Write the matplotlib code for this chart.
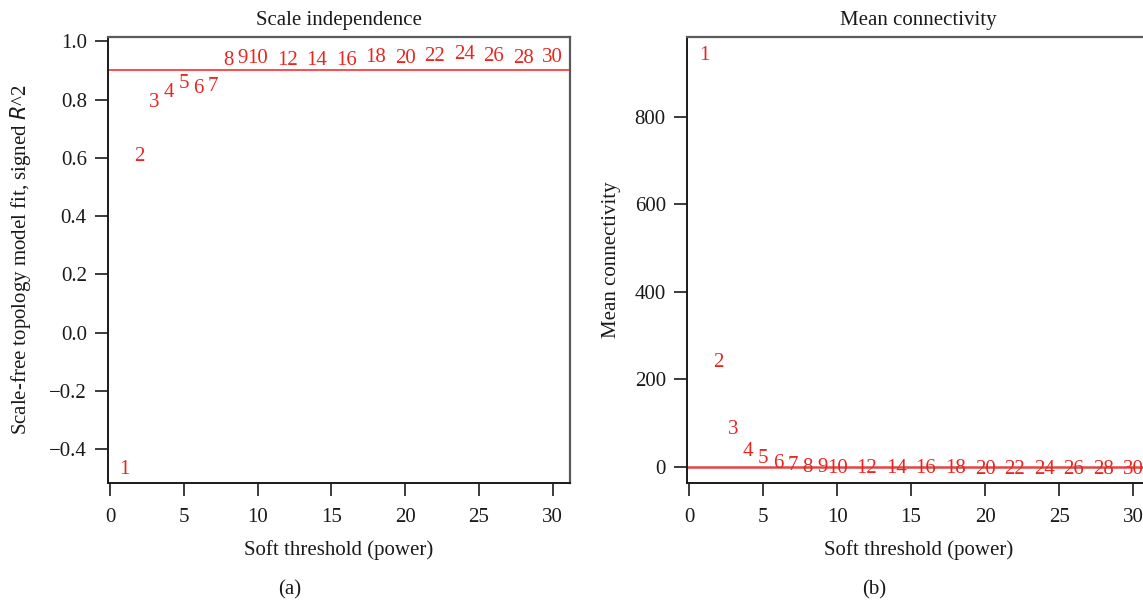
import matplotlib
matplotlib.use("Agg")
import matplotlib.pyplot as plt

# Soft-thresholding powers tested for the network
powers = [1, 2, 3, 4, 5, 6, 7, 8, 9, 10, 12, 14, 16, 18, 20, 22, 24, 26, 28, 30]

# Scale-free topology fit index (signed R^2) per power
signed_r2 = [-0.46, 0.613, 0.798, 0.832, 0.863, 0.846, 0.852, 0.943, 0.949, 0.949,
             0.943, 0.943, 0.943, 0.952, 0.949, 0.957, 0.962, 0.958, 0.951, 0.954]

# Mean connectivity per power
mean_k = [945, 244, 91, 40, 24.5, 13, 9, 4.5, 3.5, 2.5,
          1.6, 1.1, 0.8, 0.6, 0.5, 0.4, 0.35, 0.3, 0.27, 0.25]

r2_cutoff = 0.90
k_line = 0

x_ticks = [0, 5, 10, 15, 20, 25, 30]
r2_ticks = [-0.4, -0.2, 0.0, 0.2, 0.4, 0.6, 0.8, 1.0]
k_ticks = [0, 200, 400, 600, 800]

plt.rcParams["font.family"] = ["Liberation Serif", "DejaVu Serif"]
FS = 15
W, H = 1143, 601
fig = plt.figure(figsize=(W / 100, H / 100), dpi=100)

def px_axes(left, top, right, bottom):
    return fig.add_axes([left / W, 1 - bottom / H, (right - left) / W, (bottom - top) / H])

ax1 = px_axes(107.7, 36.7, 570.0, 483.3)
ax2 = px_axes(686.7, 36.7, 1150.4, 483.3)

def style(ax):
    for side in ("top", "right"):
        ax.spines[side].set_color("#5a5a5a")
        ax.spines[side].set_linewidth(1.6)
    for side in ("left", "bottom"):
        ax.spines[side].set_color("#1a1a1a")
        ax.spines[side].set_linewidth(1.4)
    ax.tick_params(axis="both", direction="out", length=9.5, width=1.2,
                   color="#1a1a1a", labelsize=FS, labelcolor="#1a1a1a")
    ax.tick_params(axis="x", pad=8)
    ax.tick_params(axis="y", pad=5.5)
    ax.set_xlim(-0.16, 31.17)
    ax.set_xticks(x_ticks)
    ax.set_xticklabels([str(t) for t in x_ticks])

# (a) Scale independence
style(ax1)
ax1.set_ylim(-0.517, 1.016)
ax1.set_yticks(r2_ticks)
ax1.set_yticklabels([f"{t:.1f}".replace("-", "\u2212") for t in r2_ticks])
ax1.axhline(r2_cutoff, color="#ff1a1a", lw=1.1)
for p, v in zip(powers, signed_r2):
    ax1.text(p, v, str(p), color="#e8251f", fontsize=FS, ha="center", va="center_baseline")
ax1.text(0.5, 1.036, "Scale independence", transform=ax1.transAxes,
         ha="center", va="center", fontsize=FS, color="#1a1a1a")
ax1.set_xlabel("Soft threshold (power)", fontsize=FS, color="#1a1a1a")
ax1.xaxis.set_label_coords(0.5, -0.128)
ax1.set_ylabel("Scale-free topology model fit, signed $\\mathit{R}$^2", fontsize=FS, color="#1a1a1a")
ax1.yaxis.set_label_coords(-0.162, 0.5)

# (b) Mean connectivity
style(ax2)
ax2.set_ylim(-37.9, 982.9)
ax2.set_yticks(k_ticks)
ax2.set_yticklabels([str(t) for t in k_ticks])
ax2.axhline(k_line, color="#e04848", lw=1.8)
for p, v in zip(powers, mean_k):
    ax2.text(p, v, str(p), color="#e8251f", fontsize=FS, ha="center", va="center_baseline")
ax2.text(0.5, 1.036, "Mean connectivity", transform=ax2.transAxes,
         ha="center", va="center", fontsize=FS, color="#1a1a1a")
ax2.set_xlabel("Soft threshold (power)", fontsize=FS, color="#1a1a1a")
ax2.xaxis.set_label_coords(0.5, -0.128)
ax2.set_ylabel("Mean connectivity", fontsize=FS, color="#1a1a1a")
ax2.yaxis.set_label_coords(-0.142, 0.5)

fig.text(290 / W, 1 - 590 / H, "(a)", ha="center", va="center", fontsize=FS, color="#1a1a1a")
fig.text(874 / W, 1 - 590 / H, "(b)", ha="center", va="center", fontsize=FS, color="#1a1a1a")

fig.savefig("out.png", dpi=100)
